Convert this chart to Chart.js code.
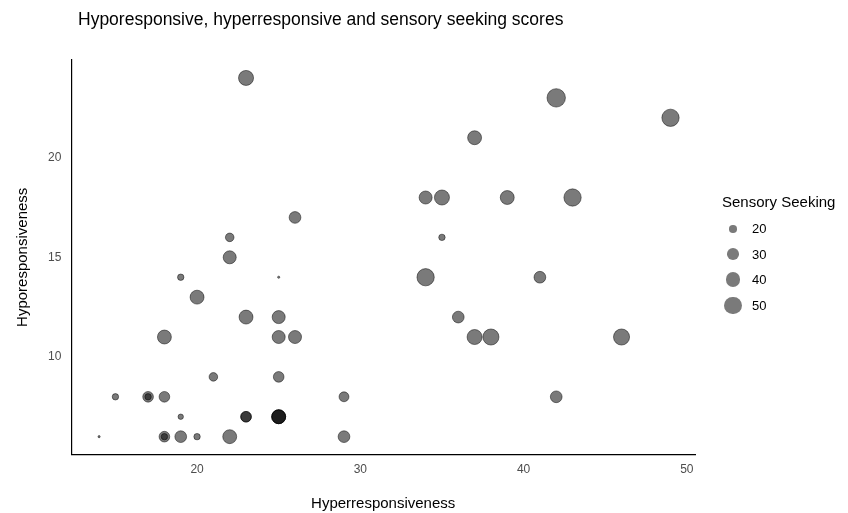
<!DOCTYPE html>
<html><head><meta charset="utf-8">
<script src="https://cdn.jsdelivr.net/npm/chart.js@4/dist/chart.umd.min.js"></script>
<style>
body{margin:0;background:#fff;font-family:Arial,"Liberation Sans",sans-serif}
#wrap{position:relative;width:848px;height:513px}
#title{position:absolute;left:78px;top:9px;font-size:17.5px;color:#000}
#legend{position:absolute;left:722px;top:193px;font-size:14px;color:#000}
#legend .t{font-size:15px;margin-bottom:6px}
#legend .r{height:25.5px;display:flex;align-items:center;font-size:13px}
#legend .c{width:22px;display:flex;justify-content:center;margin-right:8px}
#legend .c span{display:block;border-radius:50%;background:rgba(0,0,0,0.52)}
</style></head><body>
<div id="wrap"><canvas id="c" width="848" height="513"></canvas>
<div id="title">Hyporesponsive, hyperresponsive and sensory seeking scores</div>
<div id="legend"><div class="t">Sensory Seeking</div></div></div>
<script>
const hyper = [23,37,42,49,34,35,39,43,26,22,35,22,19,25,34,41,20,23,25,36,18,25,26,37,38,46,21,25,15,17,17,18,29,42,19,23,23,25,25,25,14,18,18,19,20,22,29];
const hypo  = [24,21,23,22,18,18,18,18,17,16,16,15,14,14,14,14,13,12,12,12,11,11,11,11,11,11,9,9,8,8,8,8,8,8,7,7,7,7,7,7,6,6,6,6,6,6,6];
const seeking=[41,37,55,50,34,41,37,50,30,22,18,34,18,13.5,50,30,37,37,34,30,37,34,34,41,45,45,22,27,18,27,18,27,25,30,16.5,27,27,37,37,37,13.5,27,18,30,18,37,30];
const legendVals=[20,30,40,50];
const rad = s => 1.08*Math.sqrt(Math.max(0.5, 1.725*s - 22.25));
const pts = hyper.map((x,i)=>({x:x,y:hypo[i]}));
const lg=document.getElementById('legend');
legendVals.forEach(v=>{const d=document.createElement('div');d.className='r';const r=rad(v);
d.innerHTML='<div class="c"><span style="width:'+2*r+'px;height:'+2*r+'px"></span></div>'+v;lg.appendChild(d);});
new Chart(document.getElementById('c'),{
 type:'scatter',
 data:{datasets:[{data:pts,pointRadius:seeking.map(rad),pointHoverRadius:seeking.map(rad),
   backgroundColor:'rgba(0,0,0,0.52)',borderColor:'rgba(0,0,0,0.6)',borderWidth:0.8}]},
 options:{responsive:false,animation:false,
  layout:{padding:{left:10,right:153,top:60,bottom:0}},
  plugins:{legend:{display:false},tooltip:{enabled:false},title:{display:false}},
  scales:{
   x:{min:12.3,max:50.5,afterBuildTicks:a=>{a.ticks=[20,30,40,50].map(v=>({value:v}));},
     grid:{display:false,drawTicks:true,tickLength:4,tickColor:'#333'},border:{color:'#000',width:1.2},
     ticks:{color:'#4d4d4d',font:{size:12,family:'Arial'},padding:4},
     title:{display:true,text:'Hyperresponsiveness',color:'#000',font:{size:15,family:'Arial'},padding:{top:14,bottom:0}}},
   y:{min:5.1,max:24.9,afterBuildTicks:a=>{a.ticks=[10,15,20].map(v=>({value:v}));},
     grid:{display:false,drawTicks:true,tickLength:4,tickColor:'#333'},border:{color:'#000',width:1.2},
     ticks:{color:'#4d4d4d',font:{size:12,family:'Arial'},padding:6},
     title:{display:true,text:'Hyporesponsiveness',color:'#000',font:{size:15,family:'Arial'},padding:{bottom:10}}}
  }}
});
</script></body></html>
